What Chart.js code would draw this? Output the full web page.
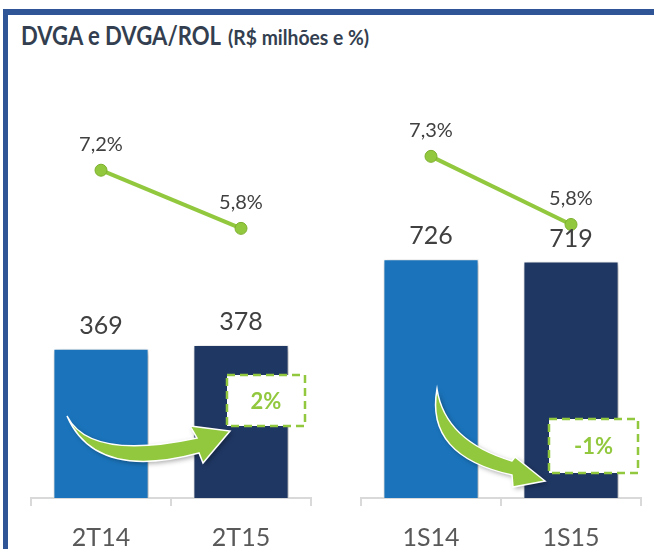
<!DOCTYPE html>
<html>
<head>
<meta charset="utf-8">
<script src="https://cdn.jsdelivr.net/npm/chart.js@4"></script>
<style>
  body { margin: 0; background: #fff; }
  #wrap { position: relative; width: 654px; height: 549px; overflow: hidden; background: #fff; }
  #frame { position: absolute; left: 3px; top: 9px; width: 660px; height: 560px;
           border-top: 6px solid #2F5597; border-left: 5px solid #2F5597; }
  #title { position: absolute; left: 21px; top: 19px; white-space: nowrap; color: #333F50;
           font-family: Lato, "Open Sans", sans-serif; font-weight: bold; }
  #title .main { display: inline-block; font-size: 26px; transform: scaleX(0.85); transform-origin: left; width: 203px; }
  #title .sub { display: inline-block; font-size: 21px; transform: scaleX(0.92); transform-origin: left; margin-left: 4px; }
  canvas { position: absolute; top: 0; }
</style>
</head>
<body>
<div id="wrap">
  <div id="frame"></div>
  <div id="title"><span class="main">DVGA e DVGA/ROL</span><span class="sub">(R$ milhões e %)</span></div>
  <canvas id="chartQ" width="330" height="570" style="left:0"></canvas>
  <canvas id="chartS" width="324" height="570" style="left:330px"></canvas>
</div>
<script>
// trimestre
var periodsQ = ["2T14", "2T15"];
var dvgaQ = [369, 378];
var ratioQ = [7.2, 5.8];
// semestre
var periodsS = ["1S14", "1S15"];
var dvgaS = [726, 719];
var ratioS = [7.3, 5.8];
// variacao
var changeQ = "2%";
var changeS = "-1%";

var barColors = ["#1B74BB", "#1F3763"];
var green = "#92C83E";
var fontName = "Lato, 'Open Sans', sans-serif";

function pct(v) { return v.toFixed(1).replace(".", ",") + "%"; }

// sombra nas barras
var barShadow = {
  id: "barShadow",
  beforeDatasetDraw: function(chart, args) {
    if (chart.data.datasets[args.index].type !== "bar") return;
    var ctx = chart.ctx;
    ctx.save();
    ctx.shadowColor = "rgba(0,0,0,0.35)";
    ctx.shadowBlur = 6;
    ctx.shadowOffsetX = 2;
    ctx.shadowOffsetY = 2;
  },
  afterDatasetDraw: function(chart, args) {
    if (chart.data.datasets[args.index].type !== "bar") return;
    chart.ctx.restore();
  }
};

// rotulos de valores
var valueLabels = {
  id: "valueLabels",
  afterDatasetsDraw: function(chart) {
    var ctx = chart.ctx;
    ctx.save();
    ctx.textAlign = "center";
    ctx.textBaseline = "middle";
    chart.data.datasets.forEach(function(ds, i) {
      var meta = chart.getDatasetMeta(i);
      meta.data.forEach(function(el, j) {
        if (ds.type === "bar") {
          ctx.font = "25px " + fontName;
          ctx.fillStyle = "#404040";
          ctx.fillText(ds.data[j], el.x, el.y - 23);
        } else {
          ctx.font = "20px " + fontName;
          ctx.fillStyle = "#404040";
          ctx.fillText(pct(ds.data[j]), el.x, el.y - 26);
        }
      });
    });
    ctx.restore();
  }
};

// seta curva + caixa tracejada
var arrowNote = {
  id: "arrowNote",
  afterDraw: function(chart) {
    var o = chart.options.plugins.arrowNote;
    if (!o) return;
    var ctx = chart.ctx;
    var L = chart.chartArea.left, B = chart.chartArea.bottom;
    function P(p) { return [L + p[0], B + p[1]]; }
    var a = o.arrow;
    ctx.save();
    ctx.shadowColor = "rgba(0,0,0,0.35)";
    ctx.shadowBlur = 5;
    ctx.shadowOffsetX = 2;
    ctx.shadowOffsetY = 2;
    ctx.beginPath();
    var t = P(a.tail); ctx.moveTo(t[0], t[1]);
    var c1 = P(a.upCtrl), e1 = P(a.upEnd);
    ctx.quadraticCurveTo(c1[0], c1[1], e1[0], e1[1]);
    [a.headTop, a.tip, a.headBottom, a.lowStart].forEach(function(p) { var q = P(p); ctx.lineTo(q[0], q[1]); });
    var c2 = P(a.lowCtrl);
    ctx.quadraticCurveTo(c2[0], c2[1], t[0], t[1]);
    ctx.closePath();
    ctx.fillStyle = green;
    ctx.fill();
    ctx.shadowColor = "transparent";
    ctx.lineWidth = 1.5;
    ctx.strokeStyle = "#ffffff";
    ctx.stroke();

    var b = o.box;
    var bx = L + b[0], by = B + b[1];
    ctx.fillStyle = "#ffffff";
    ctx.fillRect(bx, by, b[2], b[3]);
    ctx.setLineDash([8, 5]);
    ctx.lineWidth = 2.5;
    ctx.strokeStyle = green;
    ctx.strokeRect(bx, by, b[2], b[3]);
    ctx.setLineDash([]);
    ctx.font = "bold 22px " + fontName;
    ctx.fillStyle = green;
    ctx.textAlign = "center";
    ctx.textBaseline = "middle";
    ctx.fillText(o.text, bx + b[2] / 2, by + b[3] / 2 + 1);
    ctx.restore();
  }
};

function makeChart(id, labels, bars, ratios, barMax, rMin, rMax, padRight, note) {
  return new Chart(id, {
    type: "bar",
    data: {
      labels: labels,
      datasets: [{
        type: "line",
        data: ratios,
        yAxisID: "y2",
        borderColor: green,
        borderWidth: 4,
        pointRadius: 6,
        pointBackgroundColor: green,
        pointBorderColor: "#7DAF2E",
        pointBorderWidth: 1,
        order: 0
      }, {
        type: "bar",
        data: bars,
        yAxisID: "y",
        backgroundColor: barColors,
        borderColor: "#ffffff",
        borderWidth: 1,
        barPercentage: 0.68,
        categoryPercentage: 1,
        order: 1
      }]
    },
    options: {
      responsive: false,
      animation: false,
      layout: { padding: { top: 100, left: 31, right: padRight, bottom: 0 } },
      plugins: {
        legend: { display: false },
        tooltip: { enabled: false },
        arrowNote: note
      },
      scales: {
        x: {
          grid: { display: true, drawOnChartArea: false, drawTicks: true, tickLength: 8, color: "#D9D9D9", lineWidth: 2 },
          border: { display: true, color: "#D9D9D9", width: 2 },
          ticks: { color: "#595959", padding: 17, font: { family: fontName, size: 25 } }
        },
        y: { display: false, min: 0, max: barMax },
        y2: { display: false, min: rMin, max: rMax }
      }
    },
    plugins: [barShadow, valueLabels, arrowNote]
  });
}

makeChart("chartQ", periodsQ, dvgaQ, ratioQ, 984, -0.69, 8.89, 19, {
  text: changeQ,
  arrow: { tail: [36, -82], upCtrl: [59, -37], upEnd: [166, -60], headTop: [159, -72],
           tip: [199, -67], headBottom: [172, -35], lowStart: [168, -45], lowCtrl: [64, -17] },
  box: [196, -123, 78, 51]
});

makeChart("chartS", periodsS, dvgaS, ratioS, 1210, -0.22, 8.54, 13, {
  text: changeS,
  arrow: { tail: [76, -109], upCtrl: [84, -57], upEnd: [151, -37], headTop: [154, -41],
           tip: [184, -17], headBottom: [152, -11], lowStart: [151, -23], lowCtrl: [64, -42] },
  box: [188, -79, 89, 54]
});
</script>
</body>
</html>
